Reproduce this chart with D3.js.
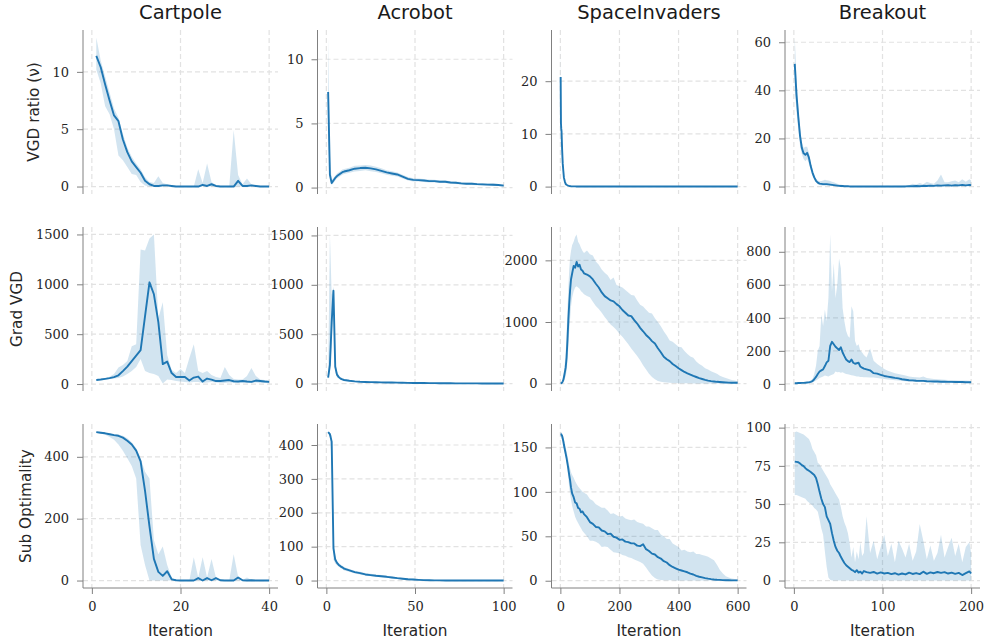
<!DOCTYPE html>
<html><head><meta charset="utf-8">
<script src="https://cdn.jsdelivr.net/npm/d3@7"></script>
<style>body{margin:0;background:#fff}</style>
</head><body>
<svg id="c" width="985" height="642"></svg>
<script>
// ---------- labels & ticks ----------
const envTitles = ["Cartpole", "Acrobot", "SpaceInvaders", "Breakout"];
const metricLabels = ["VGD ratio (\u03bd)", "Grad VGD", "Sub Optimality"];
const xLabel = "Iteration";
const xMax = [40, 100, 600, 200];
const xTicks = [[0, 20, 40], [0, 50, 100], [0, 200, 400, 600], [0, 100, 200]];
const yTicksRatio = [[0, 5, 10], [0, 5, 10], [0, 10, 20], [0, 20, 40, 60]];
const yTicksGrad = [[0, 500, 1000, 1500], [0, 500, 1000, 1500], [0, 1000, 2000], [0, 200, 400, 600, 800]];
const yTicksSub = [[0, 200, 400], [0, 100, 200, 300, 400], [0, 50, 100, 150], [0, 25, 50, 75, 100]];

// ---------- Cartpole ----------
const cpIter = [1,2,3,4,5,6,7,8,9,10,11,12,13,14,15,16,17,18,19,20,21,22,23,24,25,26,27,28,29,30,31,32,33,34,35,36,37,38,39,40];
const cpRatio = [11.4,10.4,8.9,7.5,6.2,5.7,4.1,3.0,2.2,1.7,1.2,0.5,0.2,0.05,0.05,0.1,0.1,0.05,0,0,0,0,0,0,0.15,0.05,0.2,0.05,0,0,0,0,0.5,0.05,0.05,0.1,0.05,0,0,0];
const cpRatioHi = [13.0,11.0,9.6,8.2,6.8,6.0,4.6,3.4,2.6,2.0,1.5,0.8,0.4,0.3,0.9,0.3,0.2,0.1,0.05,0,0,0,0,1.5,0.3,2.0,0.4,0.1,0,0,0,4.9,1.0,0.2,0.7,0.2,0.1,0,0,0];
const cpRatioLo = [10.2,9.0,7.0,6.3,5.0,2.7,2.3,1.7,1.1,1.0,0.4,0.1,0,0,0,0,0,0,0,0,0,0,0,0,0,0,0,0,0,0,0,0,0,0,0,0,0,0,0,0];
const cpGrad = [40,45,52,60,70,88,130,175,230,285,340,680,1020,900,620,200,225,110,70,70,70,35,65,75,25,55,45,30,30,35,40,28,25,30,25,22,35,30,25,22];
const cpGradHi = [45,50,58,72,100,165,190,230,380,400,1350,1340,1460,1500,660,820,290,140,110,150,110,260,400,130,110,130,90,70,60,170,90,50,45,45,80,160,80,45,40,35];
const cpGradLo = [35,40,45,50,55,60,75,100,130,170,250,130,110,100,80,5,45,40,30,25,20,15,20,20,10,15,20,15,10,10,15,10,10,15,10,10,15,10,10,10];
const cpSub = [480,478,476,473,470,468,462,452,440,420,385,290,175,70,28,15,30,4,1,0,0,0,0,8,0,8,1,8,1,0,0,0,10,1,0,1,0,0,0,0];
const cpSubHi = [482,481,479,477,474,472,468,460,447,428,395,352,330,130,85,110,50,10,2,0,0,0,75,10,75,10,70,10,2,0,0,85,12,2,10,2,0,0,0,0];
const cpSubLo = [478,475,471,464,455,440,420,395,370,330,115,50,0,0,0,0,0,0,0,0,0,0,0,0,0,0,0,0,0,0,0,0,0,0,0,0,0,0,0,0];

// ---------- Acrobot ----------
const acIter = [1,2,3,4,5,6,7,8,9,10,13,16,19,22,25,28,31,34,37,40,43,46,49,52,55,58,61,64,67,70,73,76,79,82,85,88,91,94,97,100];
const acRatio = [7.45,1.0,0.35,0.55,0.75,0.9,1.0,1.1,1.2,1.25,1.35,1.47,1.52,1.55,1.5,1.42,1.3,1.18,1.1,1.02,0.85,0.68,0.6,0.58,0.55,0.5,0.5,0.45,0.45,0.4,0.38,0.33,0.3,0.3,0.27,0.25,0.23,0.22,0.2,0.15];
const acRatioHi = [11.7,2.5,0.6,0.75,0.95,1.1,1.2,1.3,1.4,1.45,1.55,1.7,1.72,1.75,1.72,1.62,1.5,1.35,1.28,1.18,1.0,0.82,0.72,0.7,0.66,0.62,0.6,0.56,0.57,0.5,0.48,0.43,0.4,0.4,0.36,0.35,0.32,0.34,0.28,0.25];
const acRatioLo = [4.0,0.6,0.2,0.35,0.55,0.7,0.8,0.9,1.0,1.05,1.15,1.25,1.3,1.35,1.28,1.22,1.12,1.0,0.93,0.86,0.7,0.55,0.48,0.47,0.44,0.4,0.4,0.35,0.35,0.3,0.28,0.24,0.2,0.21,0.18,0.16,0.14,0.12,0.12,0.08];
const acGrad = [60,190,620,940,170,90,65,50,42,36,28,22,18,16,14,13,12,11,10,9,8,7,6,5,5,4,4,3,3,3,2,2,2,2,2,1,1,1,1,1];
const acGradHi = [75,1510,900,980,230,120,85,65,55,46,36,28,23,20,18,16,15,14,13,12,11,10,9,8,7,6,6,5,5,5,4,4,4,3,3,3,3,2,2,2];
const acGradLo = [45,120,400,850,110,65,50,38,32,28,22,17,14,12,11,10,9,8,7,6,5,4,4,3,3,2,2,2,1,1,1,1,1,1,1,0,0,0,0,0];
const acSub = [438,432,410,95,62,52,46,42,39,35,30,25,22,18,16,14,12.5,11,9,7,5.5,4,3,2,1.3,0.8,0.5,0.4,0.3,0.3,0.2,0.2,0.2,0.1,0.1,0.1,0.1,0.1,0.1,0.1];
const acSubHi = [440,437,428,125,72,58,51,47,44,40,34,29,26,22,20,18,16,14,12,10,8,6.5,5,4,3,2.2,1.6,1.2,1,0.9,0.8,0.7,0.7,0.6,0.6,0.5,0.5,0.5,0.5,0.5];
const acSubLo = [434,425,360,62,50,45,41,37,34,30,26,21,18,15,13,11,9.5,8,6.5,4.5,3,2,1.2,0.6,0.3,0.1,0,0,0,0,0,0,0,0,0,0,0,0,0,0];

// ---------- SpaceInvaders ----------
const siIter = [1,2,3,4,6,8,10,12,15,18,21,24,27,30,33,36,40,45,50,55,60,65,70,75,80,90,100,110,120,130,140,150,160,170,180,190,200,210,220,230,240,250,260,270,280,290,300,310,320,330,340,350,360,370,380,390,400,410,420,430,440,450,460,470,480,490,500,510,520,530,540,550,560,570,580,590,600];
const siRatio = [20.8,12,11,10.5,7,4.4,3.0,1.7,1.0,0.5,
  0.35,0.25,0.18,0.12,0.08,0.06,0.05,0.04,0.04,0.03,
  0.03,0.03,0.03,0.03,0.03,0.03,0.03,0.03,0.03,0.03,
  0.03,0.02,0.02,0.02,0.02,0.02,0.02,0.02,0.02,0.02,
  0.02,0.02,0.02,0.02,0.02,0.02,0.02,0.02,0.02,0.02,
  0.02,0.02,0.02,0.02,0.02,0.02,0.02,0.02,0.02,0.02,
  0.02,0.02,0.02,0.02,0.02,0.02,0.02,0.02,0.02,0.02,
  0.02,0.02,0.02,0.02,0.02,0.02,0.02];
const siRatioHi = [28.3,14,12,11.3,7.8,5.0,3.4,2.0,1.2,0.7,
  0.45,0.35,0.25,0.18,0.12,0.1,0.08,0.07,0.06,0.05,
  0.05,0.05,0.05,0.05,0.05,0.05,0.05,0.05,0.05,0.05,
  0.05,0.05,0.05,0.05,0.05,0.05,0.05,0.05,0.05,0.05,
  0.05,0.05,0.05,0.05,0.05,0.05,0.05,0.05,0.05,0.05,
  0.05,0.05,0.05,0.05,0.05,0.05,0.05,0.05,0.05,0.05,
  0.05,0.05,0.05,0.05,0.05,0.05,0.05,0.05,0.05,0.05,
  0.05,0.05,0.05,0.05,0.05,0.05,0.05];
const siRatioLo = [14,10,9.8,9.6,6.2,3.8,2.6,1.4,0.8,0.35,
  0.25,0.18,0.12,0.08,0.05,0.04,0.03,0.02,0.02,0.01,
  0.01,0.01,0.01,0.01,0.01,0.01,0.01,0.01,0.01,0.01,
  0.01,0.01,0.01,0.01,0.01,0.01,0.01,0.01,0.01,0.01,
  0.01,0.01,0.01,0.01,0.01,0.01,0.01,0.01,0.01,0.01,
  0.01,0.01,0.01,0.01,0.01,0.01,0.01,0.01,0.01,0.01,
  0.01,0.01,0.01,0.01,0.01,0.01,0.01,0.01,0.01,0.01,
  0.01,0.01,0.01,0.01,0.01,0.01,0.01];
const siGrad = [5,6,8,10,20,38,60,105,180,260,
  420,700,1030,1300,1520,1690,1790,1910,1880,1975,
  1900,1930,1850,1830,1790,1770,1740,1690,1620,1560,
  1480,1420,1385,1350,1335,1290,1255,1195,1150,1105,
  1095,1030,975,905,850,790,745,690,650,575,
  510,435,395,365,320,285,250,220,190,168,
  148,126,108,90,76,62,50,42,36,30,
  26,22,19,17,16,15,16];
const siGradHi = [8,10,14,18,35,70,110,200,330,500,
  800,1200,1550,1850,2050,2150,2250,2300,2380,2420,
  2300,2260,2200,2150,2120,2160,2100,2080,1980,1930,
  1850,1800,1760,1680,1720,1600,1580,1560,1520,1480,
  1440,1430,1350,1280,1250,1200,1150,1140,1060,1000,
  930,850,780,700,680,640,600,590,530,480,
  440,420,360,320,290,250,230,200,180,160,
  130,110,90,75,60,50,40];
const siGradLo = [2,3,4,5,8,15,25,40,80,120,
  200,350,600,850,1050,1250,1400,1500,1560,1580,
  1560,1540,1500,1480,1450,1420,1400,1330,1260,1210,
  1150,1080,1020,960,920,870,810,760,700,640,
  570,510,450,380,300,230,160,110,70,45,
  30,25,20,15,12,10,8,7,6,5,
  5,4,4,4,3,3,3,3,3,2,
  2,2,2,2,2,2,2];
const siSub = [165,165,164.5,164,163,160,157,153,148,143,
  138,132,126,119,113,105,98,94,88,87,
  82,81,77,78,75,71.5,66,64,60.5,60,
  56.5,55.5,52.5,53,49.5,48.5,46,46.5,44,43.5,
  42,42,39.5,39,41,35.5,33.5,30.5,29.5,26.5,
  25,22,20.5,17.5,15.5,14,12.5,11.5,10.5,9.5,
  8,7,5.5,4.5,3.8,3,2.3,1.8,1.4,1.1,
  0.9,0.7,0.6,0.5,0.4,0.4,0.4];
const siSubHi = [168,168,167,167,166,164,162,159,155,150,
  146,141,136,130,126,122,119,116,112,109,
  106,104,102,100,99,97,92,90,86,84,
  82,82,79,75,76,74,72,73,70,69,
  68,69,66,65,64,61,61,59,57,57,
  52,50,47,47,42,40,38,34,35,33,
  32,33,30,30,29,28,27,25,23,18,
  12,8,5,3.5,2.5,2,1.5];
const siSubLo = [162,162,161,160,159,156,152,148,143,139,
  134,125,115,105,98,91,84,78,72,68,
  65,62,59,56,54,50,45,45,44,42,
  38,38.5,38,35,32,31.5,31,29,28,26.5,
  25.5,24,22.5,21,19,15,10,6,3,1.5,
  0.8,0.6,0.5,0.4,0.4,0.3,0.3,0.3,0.3,0.3,
  0.3,0.3,0.2,0.2,0.2,0.2,0.2,0.2,0.2,0.2,
  0.2,0.2,0.2,0.2,0.2,0.2,0.2];

// ---------- Breakout ----------
const boIter = [1,3,5,7,9,11,13,15,17,19,21,23,25,27,29,31,33,35,37,39,41,43,45,47,49,51,53,55,57,59,61,63,65,67,69,71,73,75,77,79,82,86,90,94,98,102,106,110,114,118,122,126,130,134,138,142,146,150,154,158,162,166,170,174,178,182,186,190,194,198,200];
const boRatio = [51,38,29,21,16,13.8,13.2,14.0,12.0,8.5,
  5.8,3.8,2.4,1.6,1.2,1.1,1.0,1.0,1.0,0.9,
  0.8,0.7,0.6,0.5,0.4,0.3,0.25,0.2,0.15,0.1,
  0.1,0.05,0.05,0.05,0.05,0.05,0.05,0.05,0.05,0.05,
  0.05,0.05,0.05,0.05,0.05,0.05,0.05,0.05,0.05,0.05,
  0.05,0.05,0.1,0.1,0.2,0.15,0.3,0.25,0.4,0.3,
  0.5,0.4,0.5,0.6,0.4,0.6,0.5,0.7,0.5,0.7,0.6];
const boRatioHi = [62,45,33,24,18.5,16,16.5,16.5,14,10,
  7,4.8,3.2,2.5,2.2,2.3,2.5,2.8,2.6,2.5,
  2.3,2.0,1.8,1.5,1.2,1.0,0.8,0.6,0.4,0.3,
  0.2,0.2,0.2,0.2,0.2,0.2,0.2,0.2,0.2,0.2,
  0.2,0.2,0.2,0.2,0.3,0.2,0.3,0.2,0.3,0.3,
  0.3,0.4,0.5,1.2,0.8,1.5,1.0,2.0,1.5,1.2,
  2.5,5.0,1.8,1.8,2.2,2.5,1.8,3.0,2.0,3.0,2.5];
const boRatioLo = [40,31,24,17,13.5,11.5,10.5,11.5,9.5,7,
  4.5,2.8,1.7,1.0,0.6,0.4,0.3,0.3,0.3,0.3,
  0.2,0.2,0.2,0.1,0.1,0.1,0.05,0.05,0,0,
  0,0,0,0,0,0,0,0,0,0,
  0,0,0,0,0,0,0,0,0,0,
  0,0,0,0,0,0,0,0,0,0,
  0,0,0,0,0,0,0,0,0,0,0];
const boGrad = [4,4,5,5,6,6,7,8,9,12,
  16,28,42,60,75,82,88,108,130,140,
  230,255,240,225,215,205,222,190,168,148,
  138,132,148,128,122,125,128,105,98,92,
  88,82,65,62,55,48,44,40,36,33,
  28,25,22,21,19,18,18,16,15,14,
  14,13,13,12,12,11,11,11,10,10,10];
const boGradHi = [6,6,7,8,9,10,11,12,14,20,
  30,60,110,200,230,420,350,450,380,520,
  905,560,730,520,600,760,700,460,380,320,
  290,280,470,440,260,230,240,200,190,175,
  160,215,140,120,105,90,80,72,65,60,
  55,50,45,42,40,38,45,35,32,30,
  28,26,25,24,23,22,21,20,20,19,18];
const boGradLo = [2,2,3,3,4,4,5,5,6,7,
  9,14,20,28,35,40,45,50,48,45,
  50,55,60,75,70,72,68,70,65,60,
  58,55,52,50,48,45,45,42,42,40,
  40,38,38,35,32,30,27,25,22,20,
  18,16,14,13,12,11,11,10,9,8,
  8,7,7,7,6,6,6,6,5,5,5];
const boSub = [77.8,77.6,77.4,76.5,75.5,74.8,73.5,72.5,71.8,71,
  70,69,67,63,58,53.5,50,48,42,39.5,
  37,31,26,22,19.5,18,15.5,13.5,11.5,10,
  9,8,7,6.5,5.5,6.8,5.2,5.8,4.6,6.2,
  5.5,5.0,5.6,4.5,5.3,4.6,5.0,4.2,4.8,3.9,
  4.6,4.0,5.2,4.3,4.9,4.2,5.8,4.4,5.3,4.8,
  5.6,5.0,5.5,4.6,5.2,4.4,5.0,3.6,4.8,6.0,4.6];
const boSubHi = [97,97.5,97,96.5,96,95.5,94.5,93.5,92.5,90,
  86,84,82,77,76,74,72,70,68,66,
  63,61,59,57,55,53,48,42,38,35,
  31,24,15,22,12,19,14,25,16,18,
  42,18,26,14,22,30,16,24,12,26,
  21,15,24,13,19,37,26,14,23,13,
  18,30,15,22,28,16,24,12,22,25,18];
const boSubLo = [56,56,55.5,55,54.5,54,53.5,52,51,50,
  49,47.5,46.5,45,40,34,30,19,9,2,
  0.5,0,0,0,0,0,0,0,0,0,
  0,0,0,0,0,0,0,0,0,0,
  0,0,0,0,0,0,0,0,0,0,
  0,0,0,0,0,0,0,0,0,0,
  0,0,0,0,0,0,0,0,0,0,0];

// ---------- assemble ----------
const yTicks = [yTicksRatio, yTicksGrad, yTicksSub];
const series = [
  [[cpIter, cpRatio, cpRatioLo, cpRatioHi], [acIter, acRatio, acRatioLo, acRatioHi], [siIter, siRatio, siRatioLo, siRatioHi], [boIter, boRatio, boRatioLo, boRatioHi]],
  [[cpIter, cpGrad, cpGradLo, cpGradHi], [acIter, acGrad, acGradLo, acGradHi], [siIter, siGrad, siGradLo, siGradHi], [boIter, boGrad, boGradLo, boGradHi]],
  [[cpIter, cpSub, cpSubLo, cpSubHi], [acIter, acSub, acSubLo, acSubHi], [siIter, siSub, siSubLo, siSubHi], [boIter, boSub, boSubLo, boSubHi]]
];

const C0 = "#1f77b4";
const spineColor = "#808080";
const gridColor = "#e2e2e2";
const LEFT = [83, 317.5, 551.5, 785], W = 195;
const TOP = [30, 227, 424], H = 164;

const svg = d3.select("#c");
svg.append("rect").attr("width", 985).attr("height", 642).attr("fill", "#fff");

series.forEach((rowSeries, ri) => {
  rowSeries.forEach(([xs, m, lo, hi], ci) => {
    const x0 = LEFT[ci], y0 = TOP[ri];
    const xm = xMax[ci];
    const x = d3.scaleLinear().domain([-0.05 * xm, 1.05 * xm]).range([x0, x0 + W]);
    const ext = d3.extent(lo.concat(hi, m));
    const pad = (ext[1] - ext[0]) * 0.05;
    const y = d3.scaleLinear().domain([ext[0] - pad, ext[1] + pad]).range([y0 + H, y0]);
    const g = svg.append("g");

    // grid
    g.selectAll(null).data(xTicks[ci]).join("line")
      .attr("x1", d => x(d)).attr("x2", d => x(d))
      .attr("y1", y0).attr("y2", y0 + H)
      .attr("stroke", gridColor).attr("stroke-width", 1.2).attr("stroke-dasharray", "5,3");
    g.selectAll(null).data(yTicks[ri][ci]).join("line")
      .attr("x1", x0).attr("x2", x0 + W)
      .attr("y1", d => y(d)).attr("y2", d => y(d))
      .attr("stroke", gridColor).attr("stroke-width", 1.2).attr("stroke-dasharray", "5,3");

    const data = xs.map((xi, i) => ({ x: xi, m: m[i], lo: lo[i], hi: hi[i] }));
    g.append("path").datum(data)
      .attr("d", d3.area().x(d => x(d.x)).y0(d => y(d.lo)).y1(d => y(d.hi)))
      .attr("fill", C0).attr("fill-opacity", 0.2).attr("stroke", "none");
    g.append("path").datum(data)
      .attr("d", d3.line().x(d => x(d.x)).y(d => y(d.m)))
      .attr("fill", "none").attr("stroke", C0).attr("stroke-width", 1.9)
      .attr("stroke-linejoin", "round");

    // y axis
    const ya = g.append("g").attr("transform", `translate(${x0},0)`)
      .call(d3.axisLeft(y).tickValues(yTicks[ri][ci]).tickSize(6).tickSizeOuter(0).tickPadding(8).tickFormat(d3.format("d")));
    ya.select(".domain").attr("stroke", spineColor).attr("d", `M0,${y0}V${y0 + H}`);
    ya.selectAll(".tick line").attr("stroke", spineColor);
    ya.selectAll("text").attr("font-family", "DejaVu Serif").attr("font-size", 13).attr("fill", "#262626");

    if (ri === 2) {
      const xa = g.append("g").attr("transform", `translate(0,${y0 + H})`)
        .call(d3.axisBottom(x).tickValues(xTicks[ci]).tickSize(6).tickSizeOuter(0).tickPadding(8).tickFormat(d3.format("d")));
      xa.select(".domain").attr("stroke", spineColor).attr("d", `M${x0},0H${x0 + W}`);
      xa.selectAll(".tick line").attr("stroke", spineColor);
      xa.selectAll("text").attr("font-family", "DejaVu Serif").attr("font-size", 13).attr("fill", "#262626");
      g.append("text").attr("x", x0 + W / 2).attr("y", 636).attr("text-anchor", "middle")
        .attr("font-family", "DejaVu Sans").attr("font-size", 15.3).attr("fill", "#262626").text(xLabel);
    }
    if (ri === 0) {
      g.append("text").attr("x", x0 + W / 2).attr("y", 18.5).attr("text-anchor", "middle")
        .attr("font-family", "DejaVu Sans").attr("font-size", 19.5).attr("fill", "#1a1a1a").text(envTitles[ci]);
    }
    if (ci === 0) {
      let minX = Infinity;
      ya.selectAll(".tick text").each(function () {
        const b = this.getBBox();
        minX = Math.min(minX, b.x);
      });
      const lx = x0 + minX - 13.5;
      const ly = y0 + H / 2;
      g.append("text").attr("transform", `translate(${lx},${ly}) rotate(-90)`).attr("text-anchor", "middle")
        .attr("font-family", "DejaVu Sans").attr("font-size", 15.3).attr("fill", "#262626").text(metricLabels[ri]);
    }
  });
});
</script>
</body></html>
